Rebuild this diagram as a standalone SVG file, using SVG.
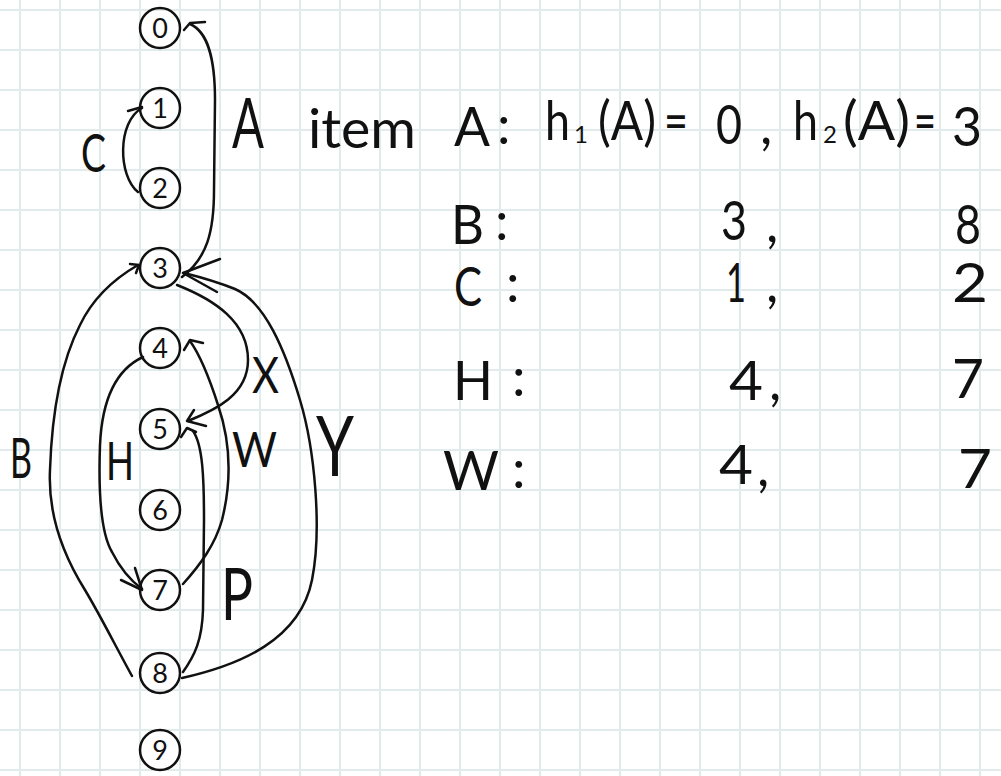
<svg xmlns="http://www.w3.org/2000/svg" width="1001" height="776" viewBox="0 0 1001 776">
<style>
.grid{stroke:#e2ebeb;stroke-width:2;fill:none}
.node circle{fill:none;stroke:#111;stroke-width:2.5}
.node text{font-family:Lato,"Liberation Sans",sans-serif;font-weight:400;font-size:27px;fill:#111;text-anchor:middle}
.edge{fill:none;stroke:#111;stroke-width:2.5;stroke-linecap:round;stroke-linejoin:round}
.lbl{font-family:Lato,"Liberation Sans",sans-serif;font-weight:400;fill:#111}
.t{font-family:Lato,"Liberation Sans",sans-serif;font-weight:400;font-size:54px;fill:#111}
.sub{font-family:Lato,"Liberation Sans",sans-serif;font-weight:400;font-size:24px;fill:#111}
</style>
<rect width="1001" height="776" fill="#ffffff"/>
<path class="grid" d="M20,0V776M60,0V776M100,0V776M140,0V776M180,0V776M220,0V776M260,0V776M300,0V776M340,0V776M380,0V776M420,0V776M460,0V776M500,0V776M540,0V776M580,0V776M620,0V776M660,0V776M700,0V776M740,0V776M780,0V776M820,0V776M860,0V776M900,0V776M940,0V776M980,0V776M0,10H1001M0,50H1001M0,90H1001M0,130H1001M0,170H1001M0,210H1001M0,250H1001M0,290H1001M0,330H1001M0,370H1001M0,410H1001M0,450H1001M0,490H1001M0,530H1001M0,570H1001M0,610H1001M0,650H1001M0,690H1001M0,730H1001M0,770H1001"/>

<g id="connectors">
  <g id="edge-A">
    <path class="edge" d="M182,277 C207,258 214,232 214,190 L215,100 C215,58 208,32 190,24"/>
    <path class="edge" d="M205,22 L190,23 L184,30"/>
  </g>
  <g id="edge-C">
    <path class="edge" d="M138,192 C118,176 117,122 142,108"/>
    <path class="edge" d="M128,111 L142,107"/>
  </g>
  <g id="edge-B">
    <path class="edge" d="M132,676 C115,645 100,615 85,590 C60,550 48,510 50,470 C52,410 62,360 80,325 C92,300 112,280 138,265"/>
    <path class="edge" d="M130,264 L139,265 L136,273"/>
  </g>
  <g id="edge-H">
    <path class="edge" d="M143,357 C115,370 102,400 100,445 C98,500 102,535 112,552 C120,568 130,580 142,589"/>
    <path class="edge" d="M121,580 L142,590 L135,568"/>
  </g>
  <g id="edge-X">
    <path class="edge" d="M177,285 C215,300 248,322 248,360 C248,395 215,410 188,421"/>
    <path class="edge" d="M194,410 L187,421 L206,426"/>
  </g>
  <g id="edge-W">
    <path class="edge" d="M183,584 C200,565 215,545 222,520 C232,480 230,440 218,405 C210,380 200,355 190,341"/>
    <path class="edge" d="M184,350 L190,340 L203,343"/>
  </g>
  <g id="edge-P">
    <path class="edge" d="M183,672 C195,655 202,640 203,610 L204,520 C204,480 203,445 193,431"/>
    <path class="edge" d="M181,437 L187,428 L196,432"/>
  </g>
  <g id="edge-Y">
    <path class="edge" d="M182,678 C240,665 300,640 312,580 C322,530 315,450 300,400 C285,350 265,302 235,289 C215,281 200,277 184,273"/>
    <path class="edge" d="M220,259 L183,273 L217,292"/>
  </g>
</g>

<g id="node-0" class="node"><circle cx="160" cy="28" r="20"/><text x="160" y="38">0</text></g>
<g id="node-1" class="node"><circle cx="160" cy="108" r="20"/><text x="160" y="118">1</text></g>
<g id="node-2" class="node"><circle cx="160" cy="188" r="20"/><text x="160" y="198">2</text></g>
<g id="node-3" class="node"><circle cx="160" cy="268" r="20"/><text x="160" y="278">3</text></g>
<g id="node-4" class="node"><circle cx="160" cy="348" r="20"/><text x="160" y="358">4</text></g>
<g id="node-5" class="node"><circle cx="160" cy="429" r="20"/><text x="160" y="439">5</text></g>
<g id="node-6" class="node"><circle cx="160" cy="510" r="20"/><text x="160" y="520">6</text></g>
<g id="node-7" class="node"><circle cx="160" cy="590" r="20"/><text x="160" y="600">7</text></g>
<g id="node-8" class="node"><circle cx="160" cy="673" r="20"/><text x="160" y="683">8</text></g>
<g id="node-9" class="node"><circle cx="160" cy="750" r="20"/><text x="160" y="760">9</text></g>

<g id="edge-labels">
  <text class="lbl" x="232" y="148" font-size="70" textLength="32" lengthAdjust="spacingAndGlyphs">A</text>
  <text class="lbl" x="81" y="172" font-size="52" textLength="25" lengthAdjust="spacingAndGlyphs">C</text>
  <text class="lbl" x="10" y="478" font-size="56" textLength="22" lengthAdjust="spacingAndGlyphs">B</text>
  <text class="lbl" x="106" y="480" font-size="52" textLength="28" lengthAdjust="spacingAndGlyphs">H</text>
  <text class="lbl" x="252" y="393" font-size="50" textLength="27" lengthAdjust="spacingAndGlyphs">X</text>
  <text class="lbl" x="232" y="467" font-size="48" textLength="45" lengthAdjust="spacingAndGlyphs">W</text>
  <text class="lbl" x="221" y="620" font-size="72" textLength="32" lengthAdjust="spacingAndGlyphs">P</text>
  <text class="lbl" x="316" y="476" font-size="84" textLength="38" lengthAdjust="spacingAndGlyphs">Y</text>
</g>

<g id="table">
  <text class="t" x="308" y="148" font-weight="300" font-size="56" textLength="108" lengthAdjust="spacingAndGlyphs">item</text>
  <text class="t" x="454" y="146" font-size="60" textLength="36" lengthAdjust="spacingAndGlyphs">A</text>
  <text class="t" x="497" y="144">:</text>
  <text class="t" x="545" y="140" font-size="62" textLength="25" lengthAdjust="spacingAndGlyphs">h</text>
  <text class="sub" x="574" y="143">1</text>
  <text class="t" x="598" y="140" textLength="58" lengthAdjust="spacingAndGlyphs">(A)</text>
  <text class="t" x="664" y="140" textLength="24" lengthAdjust="spacingAndGlyphs">=</text>
  <text class="t" x="716" y="144" textLength="26" lengthAdjust="spacingAndGlyphs">0</text>
  <text class="t" x="760" y="144">,</text>
  <text class="t" x="793" y="140" font-size="62" textLength="25" lengthAdjust="spacingAndGlyphs">h</text>
  <text class="sub" x="823" y="143">2</text>
  <text class="t" x="843" y="140" textLength="67" lengthAdjust="spacingAndGlyphs">(A)</text>
  <text class="t" x="914" y="140" textLength="22" lengthAdjust="spacingAndGlyphs">=</text>
  <text class="t" x="952" y="146" textLength="30" lengthAdjust="spacingAndGlyphs">3</text>

  <text class="t" x="451" y="244" font-size="62" textLength="33" lengthAdjust="spacingAndGlyphs">B</text>
  <text class="t" x="495" y="240">:</text>
  <text class="t" x="721" y="240" textLength="26" lengthAdjust="spacingAndGlyphs">3</text>
  <text class="t" x="766" y="242">,</text>
  <text class="t" x="955" y="244" font-size="52" textLength="26" lengthAdjust="spacingAndGlyphs">8</text>

  <text class="t" x="454" y="306" font-size="58" textLength="28" lengthAdjust="spacingAndGlyphs">C</text>
  <text class="t" x="506" y="302">:</text>
  <text class="t" x="726" y="302" textLength="20" lengthAdjust="spacingAndGlyphs">1</text>
  <text class="t" x="766" y="302">,</text>
  <text class="t" x="952" y="302" font-size="44" textLength="36" lengthAdjust="spacingAndGlyphs">2</text>

  <text class="t" x="453" y="400" font-size="62" textLength="40" lengthAdjust="spacingAndGlyphs">H</text>
  <text class="t" x="512" y="396">:</text>
  <text class="t" x="729" y="400" textLength="34" lengthAdjust="spacingAndGlyphs">4</text>
  <text class="t" x="769" y="400">,</text>
  <text class="t" x="952" y="398" textLength="32" lengthAdjust="spacingAndGlyphs">7</text>

  <text class="t" x="443" y="490" font-size="56" textLength="56" lengthAdjust="spacingAndGlyphs">W</text>
  <text class="t" x="512" y="488">:</text>
  <text class="t" x="719" y="484" textLength="34" lengthAdjust="spacingAndGlyphs">4</text>
  <text class="t" x="757" y="486">,</text>
  <text class="t" x="958" y="488" textLength="34" lengthAdjust="spacingAndGlyphs">7</text>
</g>
</svg>
